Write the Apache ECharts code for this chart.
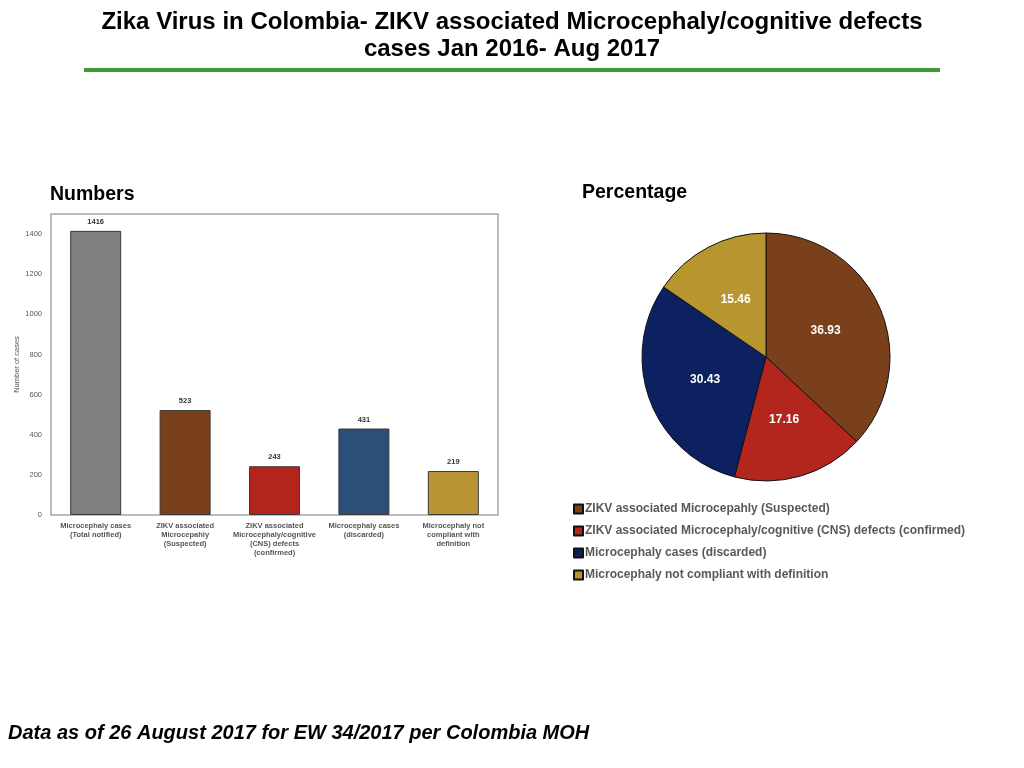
<!DOCTYPE html>
<html>
<head>
<meta charset="utf-8">
<script src="https://cdn.jsdelivr.net/npm/echarts@6/dist/echarts.min.js"></script>
<style>
  html, body { margin: 0; padding: 0; background: #fff; }
  #main { width: 1024px; height: 768px; }
</style>
</head>
<body>
<div id="main"></div>
<script>
// bar chart data
const barCategories = [
  'Microcephaly cases\n(Total notified)',
  'ZIKV associated\nMicrocepahly\n(Suspected)',
  'ZIKV associated\nMicrocephaly/cognitive\n(CNS) defects\n(confirmed)',
  'Microcephaly cases\n(discarded)',
  'Microcephaly not\ncompliant with\ndefinition'
];
const barValues = [1416, 523, 243, 431, 219];
const barColors = ['#7f7f7f', '#7a3f1b', '#b2241c', '#2c4f79', '#b89532'];

// pie chart data
const pieNames = [
  'ZIKV associated Microcepahly (Suspected)',
  'ZIKV associated Microcephaly/cognitive (CNS) defects (confirmed)',
  'Microcephaly cases (discarded)',
  'Microcephaly not compliant with definition'
];
const pieValues = [36.93, 17.16, 30.43, 15.46];
const pieColors = ['#7a3f1b', '#b3261e', '#0d2160', '#b8962f'];

const font = '"Liberation Sans", Arial, Helvetica, sans-serif';

const chart = echarts.init(document.getElementById('main'));
chart.setOption({
  textStyle: { fontFamily: font },
  animation: false,
  title: [
    {
      text: 'Numbers', left: 45, top: 180,
      textStyle: { fontFamily: font, fontSize: 19.5, fontWeight: 'bold', color: '#000' }
    },
    {
      text: 'Percentage', left: 577, top: 178,
      textStyle: { fontFamily: font, fontSize: 19.5, fontWeight: 'bold', color: '#000' }
    },
    {
      text: 'Data as of 26 August 2017 for EW 34/2017 per Colombia MOH', left: 3, top: 718,
      textStyle: { fontFamily: font, fontSize: 20, fontWeight: 'bold', fontStyle: 'italic', color: '#000' }
    }
  ],
  graphic: [
    {
      type: 'text',
      left: 'center', top: 10,
      style: {
        text: 'Zika Virus in Colombia- ZIKV associated Microcephaly/cognitive defects',
        font: 'bold 24px ' + font,
        fill: '#000'
      }
    },
    {
      type: 'text',
      left: 'center', top: 37,
      style: {
        text: 'cases Jan 2016- Aug 2017',
        font: 'bold 24px ' + font,
        fill: '#000'
      }
    },
    {
      type: 'rect',
      shape: { x: 84, y: 68, width: 856, height: 4 },
      style: { fill: '#3f9a33' }
    }
  ],
  grid: {
    left: 51, right: 526, top: 214, bottom: 253,
    show: true, borderColor: '#a6a6a6', borderWidth: 1.5, backgroundColor: '#fff'
  },
  xAxis: {
    type: 'category',
    data: barCategories,
    axisLine: { show: false },
    axisTick: { show: false },
    axisLabel: {
      interval: 0, fontSize: 7.5, fontWeight: 'bold', color: '#555', lineHeight: 9, margin: 6
    }
  },
  yAxis: {
    type: 'value',
    min: 0, max: 1500, interval: 200,
    name: 'Number of cases',
    nameLocation: 'middle',
    nameGap: 23,
    nameTextStyle: { fontSize: 7.5, color: '#555' },
    splitLine: { show: false },
    axisLine: { show: false },
    axisTick: { show: false },
    axisLabel: {
      fontSize: 7.5, color: '#555', margin: 9,
      showMaxLabel: false,
      formatter: v => (v % 200 === 0 ? String(v) : '')
    }
  },
  legend: {
    data: pieNames,
    orient: 'vertical',
    left: 568, top: 498,
    itemWidth: 9, itemHeight: 9, itemGap: 10,
    icon: 'rect',
    textStyle: { fontFamily: font, fontSize: 12, fontWeight: 'bold', color: '#595959', padding: [0, 0, 0, -3] }
  },
  series: [
    {
      type: 'bar',
      data: barValues.map((v, i) => ({
        value: v,
        itemStyle: { color: barColors[i] }
      })),
      barWidth: 51,
      itemStyle: { borderColor: '#3a3a3a', borderWidth: 1 },
      label: {
        show: true, position: 'top', distance: 5,
        fontSize: 7.5, fontWeight: 'bold', color: '#333'
      }
    },
    {
      type: 'pie',
      center: [766, 357],
      radius: [0, 124],
      startAngle: 90,
      clockwise: true,
      data: pieValues.map((v, i) => ({
        name: pieNames[i], value: v,
        itemStyle: { color: pieColors[i] }
      })),
      itemStyle: { borderColor: '#111', borderWidth: 1 },
      label: {
        show: true, position: 'inside',
        formatter: p => p.value.toFixed(2),
        fontSize: 12, fontWeight: 'bold', color: '#fff'
      },
      labelLine: { show: false },
      emphasis: { disabled: true }
    }
  ]
});
</script>
</body>
</html>
